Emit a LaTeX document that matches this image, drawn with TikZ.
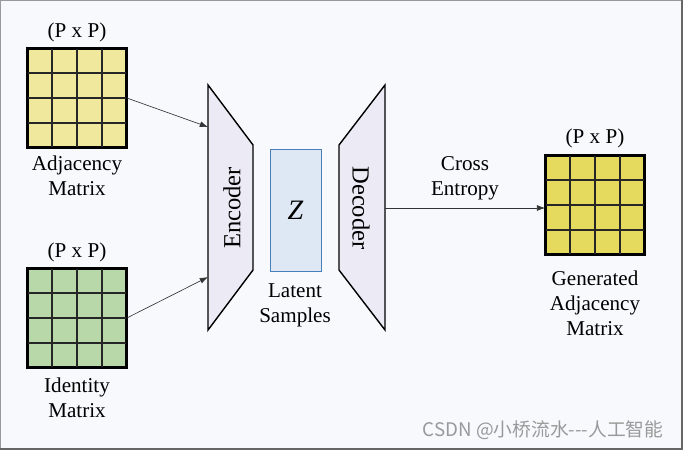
\documentclass[tikz,border=0pt]{standalone}
\usepackage{fontspec}
\setmainfont{Liberation Serif}
\newfontfamily\cjkfont{Noto Sans CJK SC}
\usetikzlibrary{arrows.meta,calc}

\definecolor{bgcol}{HTML}{F8F9FD}
\definecolor{adjcol}{HTML}{F0E89C}
\definecolor{idcol}{HTML}{B9D8AA}
\definecolor{gencol}{HTML}{E6DA5E}
\definecolor{trapcol}{HTML}{ECEBF5}
\definecolor{zfill}{HTML}{DDE8F4}
\definecolor{zline}{HTML}{4A7EBB}

\tikzset{
	matrixbox/.style={draw=black, line width=1.4pt, minimum size=2.94cm, inner sep=0pt},
	gridline/.style={draw=black!85, line width=1.1pt},
	label/.style={font=\fontsize{18}{21.5}\selectfont, align=center},
	biglabel/.style={font=\fontsize{21}{24}\selectfont},
	link/.style={draw=black!80, line width=0.55pt, -{Latex[length=7pt,width=5pt]}}
}

\begin{document}
\begin{tikzpicture}[x=0.03cm, y=-0.03cm]
	\useasboundingbox (0,0) rectangle (683,450);
	\fill[bgcol] (0,0) rectangle (683,450);
	\draw[black!40, line width=0.6pt] (0.5,449) -- (0.5,0.5) -- (682,0.5);
	\draw[black!60, line width=1.4pt] (682,0.5) -- (682,449) -- (0.5,449);

	% input matrices
	\node[matrixbox, fill=adjcol] (adj) at (77,98) {};
	\node[matrixbox, fill=idcol] (ident) at (77,318) {};
	\node[matrixbox, fill=gencol] (gen) at (595,205) {};
	\foreach \m in {adj,ident,gen} {
		\foreach \f in {0.25,0.5,0.75} {
			\draw[gridline] ($(\m.north west)!\f!(\m.north east)$) -- ($(\m.south west)!\f!(\m.south east)$);
			\draw[gridline] ($(\m.north west)!\f!(\m.south west)$) -- ($(\m.north east)!\f!(\m.south east)$);
		}
		\draw[matrixbox] (\m.north west) rectangle (\m.south east);
	}
	\node[label] (adjsize) at (77,32) {(P x P)};
	\node[label] (adjname) at (77,176) {Adjacency\\Matrix};
	\node[label] (idsize) at (77,252) {(P x P)};
	\node[label] (idname) at (77,398) {Identity\\Matrix};
	\node[label] (gensize) at (595,138) {(P x P)};
	\node[label] (genname) at (595,303) {Generated\\Adjacency\\Matrix};

	% encoder / decoder
	\draw[fill=trapcol, line width=1.2pt] (208,85) -- (253,145) -- (253,270) -- (208,330) -- cycle;
	\draw[fill=trapcol, line width=1.2pt] (385,85) -- (339,145) -- (339,270) -- (385,330) -- cycle;
	\node[biglabel, rotate=90] (enc) at (232,208) {Encoder};
	\node[biglabel, rotate=-90] (dec) at (361,208) {Decoder};
	\coordinate (encin1) at (208,127);
	\coordinate (encin2) at (208,277);
	\coordinate (decout) at (385,208);

	% latent
	\node[draw=zline, fill=zfill, line width=0.8pt, minimum width=1.53cm, minimum height=3.66cm] (z) at (295.5,210) {};
	\node[font=\fontsize{24}{26}\selectfont\itshape] (zname) at (z) {Z};
	\node[label] (latent) at (295,305) {Latent\\Samples};

	\draw[link] (adj.east) -- (encin1);
	\draw[link] (ident.east) -- (encin2);
	\draw[link] (decout) -- (decout -| gen.west);
	\node[label] (cross) at (465,178) {Cross\\Entropy};

	\node[font=\cjkfont\fontsize{16}{18}\selectfont, text=black!40] (mark) at (543,430) {CSDN @小桥流水---人工智能};
\end{tikzpicture}
\end{document}
